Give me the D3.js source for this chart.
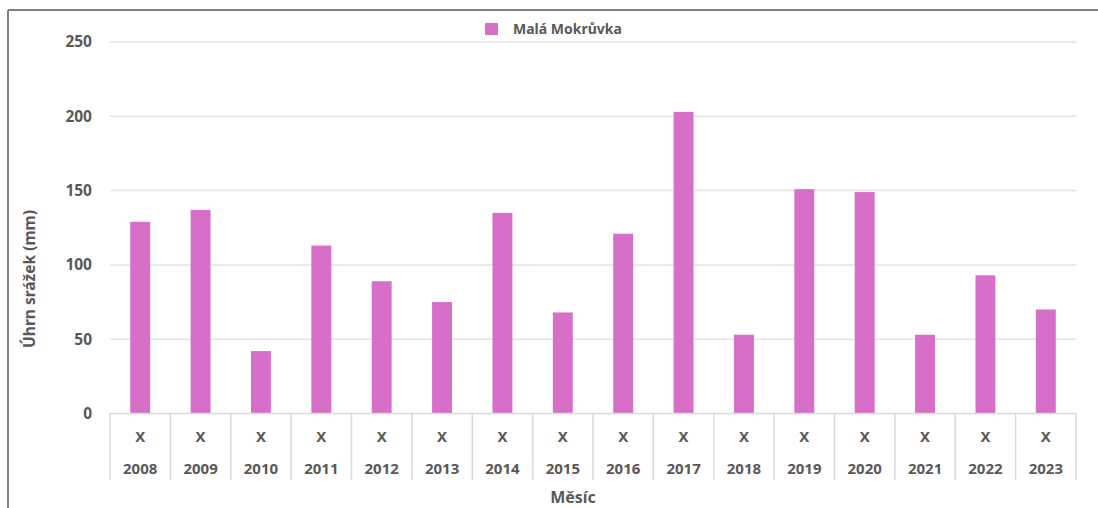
<!DOCTYPE html>
<html>
<head>
<meta charset="utf-8">
<script src="https://cdn.jsdelivr.net/npm/d3@7"></script>
<style>
body { margin: 0; background: #fff; }
text { font-family: "Noto Sans", "Open Sans", sans-serif; font-weight: bold; fill: #595959; }
</style>
</head>
<body>
<div id="chart"></div>
<script>
'use strict';

var years = ["2008","2009","2010","2011","2012","2013","2014","2015",
             "2016","2017","2018","2019","2020","2021","2022","2023"]
var subLabels = ["X","X","X","X","X","X","X","X","X","X","X","X","X","X","X","X"]
var rainfall = [129, 137, 42, 113, 89, 75, 135, 68, 121, 203, 53, 151, 149, 53, 93, 70]
var yTicks = [0, 50, 100, 150, 200, 250]
var seriesName = "Malá Mokrůvka"

var W = 1098, H = 508
var plotLeft = 110, plotRight = 1076, plotTop = 42, plotBottom = 413.5
var barColor = "#d76fc9"

var svg = d3.select("#chart").append("svg").attr("width", W).attr("height", H)

// frame lines from the screenshot
svg.append("line").attr("x1", 8).attr("x2", W).attr("y1", 10).attr("y2", 10)
    .attr("stroke", "#7f7f7f").attr("stroke-width", 2)
svg.append("line").attr("x1", 8).attr("x2", 8).attr("y1", 10).attr("y2", H)
    .attr("stroke", "#7f7f7f").attr("stroke-width", 2)

var x = d3.scaleBand()
    .domain(years)
    .range([plotLeft, plotRight])
    .paddingInner(0.67)
    .paddingOuter(0.335)

var band = d3.scaleBand().domain(years).range([plotLeft, plotRight])

var y = d3.scaleLinear()
    .domain([0, 250])
    .range([plotBottom, plotTop])

// gridlines
svg.append("g")
    .selectAll("line")
    .data(yTicks.filter(function(d){ return d > 0 }))
    .enter().append("line")
    .attr("x1", plotLeft).attr("x2", plotRight)
    .attr("y1", function(d){ return y(d) }).attr("y2", function(d){ return y(d) })
    .attr("stroke", "#e3e3e3").attr("stroke-width", 1.5)

// y tick labels
svg.append("g")
    .selectAll("text")
    .data(yTicks)
    .enter().append("text")
    .text(function(d){ return d })
    .attr("x", 92)
    .attr("y", function(d){ return y(d) })
    .attr("dy", "0.35em")
    .attr("text-anchor", "end")
    .style("font-size", "15.5px")

// bars
svg.append("g")
    .selectAll("rect")
    .data(rainfall)
    .enter().append("rect")
    .attr("x", function(d, i){ return x(years[i]) })
    .attr("y", function(d){ return y(d) })
    .attr("width", x.bandwidth())
    .attr("height", function(d){ return y(0) - y(d) })
    .attr("fill", barColor)

// baseline and category dividers
svg.append("line").attr("x1", plotLeft).attr("x2", plotRight).attr("y1", plotBottom).attr("y2", plotBottom)
    .attr("stroke", "#d9d9d9").attr("stroke-width", 1.5)
svg.append("g")
    .selectAll("line")
    .data(years.concat(["end"]))
    .enter().append("line")
    .attr("x1", function(d, i){ return plotLeft + i * band.step() })
    .attr("x2", function(d, i){ return plotLeft + i * band.step() })
    .attr("y1", plotBottom).attr("y2", 480)
    .attr("stroke", "#d9d9d9").attr("stroke-width", 1.5)

// category labels
svg.append("g")
    .selectAll("text")
    .data(subLabels)
    .enter().append("text")
    .text(function(d){ return d })
    .attr("x", function(d, i){ return band(years[i]) + band.bandwidth() / 2 })
    .attr("y", 437)
    .attr("dy", "0.35em")
    .attr("text-anchor", "middle")
    .style("font-size", "15px")

svg.append("g")
    .selectAll("text")
    .data(years)
    .enter().append("text")
    .text(function(d){ return d })
    .attr("x", function(d){ return band(d) + band.bandwidth() / 2 })
    .attr("y", 469)
    .attr("dy", "0.35em")
    .attr("text-anchor", "middle")
    .style("font-size", "15px")

// axis titles
svg.append("text").text("Měsíc")
    .attr("x", 573).attr("y", 497).attr("dy", "0.35em")
    .attr("text-anchor", "middle").style("font-size", "16px")

svg.append("text").text("Úhrn srážek (mm)")
    .attr("transform", "translate(30,279) rotate(-90)")
    .attr("dy", "0.35em")
    .attr("text-anchor", "middle").style("font-size", "15.5px")

// legend
var legend = svg.append("g").attr("transform", "translate(485,23)")
legend.append("rect").attr("width", 13).attr("height", 12).attr("fill", barColor)
legend.append("text").text(seriesName)
    .attr("x", 28).attr("y", 6).attr("dy", "0.35em")
    .style("font-size", "14px")
</script>
</body>
</html>
